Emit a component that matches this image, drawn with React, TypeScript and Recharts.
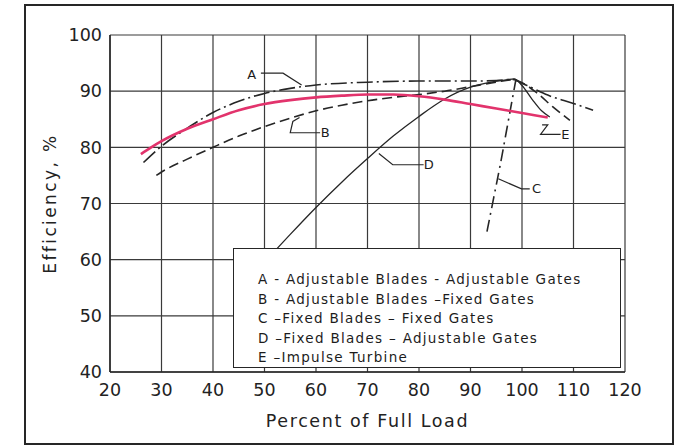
import { CartesianGrid, Legend, Line, LineChart, ReferenceDot, XAxis, YAxis } from "recharts";

// Percent of full load vs efficiency
const loadA = [26.5, 30, 35, 40, 45, 50, 55, 60, 70, 80, 90, 95, 98, 101, 105, 110, 113.8];
const effA = [77.3, 80.2, 83.4, 86.2, 88.2, 89.6, 90.5, 91.1, 91.6, 91.8, 91.8, 91.9, 92.1, 91, 89.3, 87.8, 86.6];

const loadB = [29, 30, 35, 40, 45, 50, 55, 60, 65, 70, 75, 80, 85, 90, 95, 98, 100, 103, 106, 109.3];
const effB = [75, 75.6, 77.9, 80, 82, 83.7, 85.2, 86.5, 87.5, 88.3, 88.9, 89.4, 90, 90.8, 91.6, 92, 91.5, 89.6, 87.2, 84.8];

const loadC = [93.2, 94.5, 95.8, 97, 98, 98.8];
const effC = [65, 71, 77, 83, 88, 92];

const loadD = [44, 50, 55, 60, 65, 70, 75, 80, 85, 90, 94, 97, 98.5, 100, 102, 103.8, 105.4];
const effD = [53, 59.5, 64.5, 69.3, 73.8, 78, 82, 85.5, 88.6, 90.7, 91.6, 92, 92.2, 91, 88.5, 86.5, 85.4];

const loadE = [26, 28, 30, 35, 40, 45, 50, 55, 60, 65, 70, 75, 80, 85, 90, 95, 100, 105];
const effE = [78.8, 80, 81.1, 83.3, 85, 86.6, 87.7, 88.4, 88.9, 89.2, 89.4, 89.4, 89.1, 88.5, 87.7, 86.9, 86.1, 85.3];

const xTicks = [20, 30, 40, 50, 60, 70, 80, 90, 100, 110, 120];
const yTicks = [40, 50, 60, 70, 80, 90, 100];

const legendLines = [
  "A - Adjustable Blades - Adjustable Gates",
  "B - Adjustable Blades \u2013Fixed Gates",
  "C \u2013Fixed Blades \u2013 Fixed Gates",
  "D \u2013Fixed Blades \u2013 Adjustable Gates",
  "E \u2013Impulse Turbine",
];

// curve letters and their leader lines
const labelNames = ["A", "B", "C", "D", "E"];
const labelLoad = [47.5, 61.8, 102.8, 81.9, 108.4];
const labelEff = [93, 82.6, 72.6, 76.9, 82.2];
const leaderLoad = [
  [49.3, 53.6, 57.2],
  [60.8, 55, 55.5, 56.8],
  [101.5, 99.9, 95.4],
  [80.9, 74.9, 72.2],
  [107.5, 103.6, 105, 103.9],
];
const leaderEff = [
  [93.2, 93.2, 91.1],
  [82.6, 82.6, 84.6, 85.3],
  [72.6, 72.6, 74.4],
  [76.9, 76.9, 78.9],
  [82.3, 82.3, 84, 84],
];

const zip = (xs: number[], ys: number[]) => xs.map((x, i) => ({ load: x, eff: ys[i] }));

const ink = "#262626";
const font = "DejaVu Sans";

function LegendBox() {
  return (
    <div
      style={{
        width: 388,
        height: 120,
        boxSizing: "border-box",
        border: `1.5px solid ${ink}`,
        background: "#fff",
        padding: "21px 0 0 24px",
        fontFamily: font,
        fontSize: 13.5,
        letterSpacing: 1.3,
        color: "#1c1c1c",
        lineHeight: "19.6px",
        textAlign: "left",
      }}
    >
      {legendLines.map((t) => (
        <div key={t} style={{ whiteSpace: "pre" }}>
          {t}
        </div>
      ))}
    </div>
  );
}

export default function App() {
  return (
    <div style={{ position: "absolute", left: 0, top: 0, width: 687, height: 447, background: "#fff" }}>
      <div
        style={{
          position: "absolute",
          left: 24,
          top: 4,
          width: 650,
          height: 441,
          boxSizing: "border-box",
          border: `2px solid ${ink}`,
        }}
      />
      <LineChart width={687} height={447} margin={{ top: 35, right: 62, left: 50, bottom: 45 }}>
        <CartesianGrid stroke="#3a3a3a" strokeWidth={1.2} />
        <XAxis
          type="number"
          dataKey="load"
          domain={[20, 120]}
          ticks={xTicks}
          tickLine={false}
          tickSize={0}
          tickMargin={12}
          axisLine={{ stroke: ink, strokeWidth: 1.5 }}
          tick={{ fontSize: 17.5, fill: "#222", fontFamily: font }}
          label={{
            value: "Percent of Full Load",
            position: "insideBottom",
            offset: -25,
            style: { fontSize: 17.5, fill: "#222", fontFamily: font, letterSpacing: 1.6 },
          }}
        />
        <YAxis
          type="number"
          dataKey="eff"
          domain={[40, 100]}
          ticks={yTicks}
          width={60}
          tickLine={false}
          tickSize={0}
          tickMargin={8}
          axisLine={{ stroke: ink, strokeWidth: 1.5 }}
          tick={{ fontSize: 17.5, fill: "#222", fontFamily: font }}
          label={{
            value: "Efficiency, %",
            angle: -90,
            position: "insideLeft",
            offset: 0,
            style: { textAnchor: "middle", fontSize: 17, fill: "#222", fontFamily: font, letterSpacing: 2.4 },
          }}
        />
        <Line data={zip(loadD, effD)} dataKey="eff" type="monotone" stroke={ink} strokeWidth={1.3} dot={false} legendType="none" isAnimationActive={false} />
        <Line data={zip(loadB, effB)} dataKey="eff" type="monotone" stroke={ink} strokeWidth={1.6} strokeDasharray="10 5" dot={false} legendType="none" isAnimationActive={false} />
        <Line data={zip(loadA, effA)} dataKey="eff" type="monotone" stroke={ink} strokeWidth={1.6} strokeDasharray="16 4 2 4" dot={false} legendType="none" isAnimationActive={false} />
        <Line data={zip(loadC, effC)} dataKey="eff" type="monotone" stroke={ink} strokeWidth={1.6} strokeDasharray="12 5 2 5" dot={false} legendType="none" isAnimationActive={false} />
        <Line data={zip(loadE, effE)} dataKey="eff" type="monotone" stroke="#e2336c" strokeWidth={2.6} dot={false} legendType="none" isAnimationActive={false} />
        {leaderLoad.map((xs, i) => (
          <Line
            key={`leader-${labelNames[i]}`}
            data={zip(xs, leaderEff[i])}
            dataKey="eff"
            type="linear"
            stroke={ink}
            strokeWidth={1.2}
            dot={false}
            legendType="none"
            isAnimationActive={false}
          />
        ))}
        {labelNames.map((name, i) => (
          <ReferenceDot
            key={`label-${name}`}
            x={labelLoad[i]}
            y={labelEff[i]}
            r={0}
            shape={(p: any) => (
              <text
                x={p.cx}
                y={p.cy}
                textAnchor="middle"
                dominantBaseline="central"
                fontFamily={font}
                fontSize={13}
                fill="#1c1c1c"
              >
                {name}
              </text>
            )}
          />
        ))}
        <Legend
          layout="vertical"
          align="center"
          verticalAlign="middle"
          content={() => <LegendBox />}
          wrapperStyle={{ left: 233, top: 248, width: 388, height: 120 }}
        />
      </LineChart>
    </div>
  );
}
